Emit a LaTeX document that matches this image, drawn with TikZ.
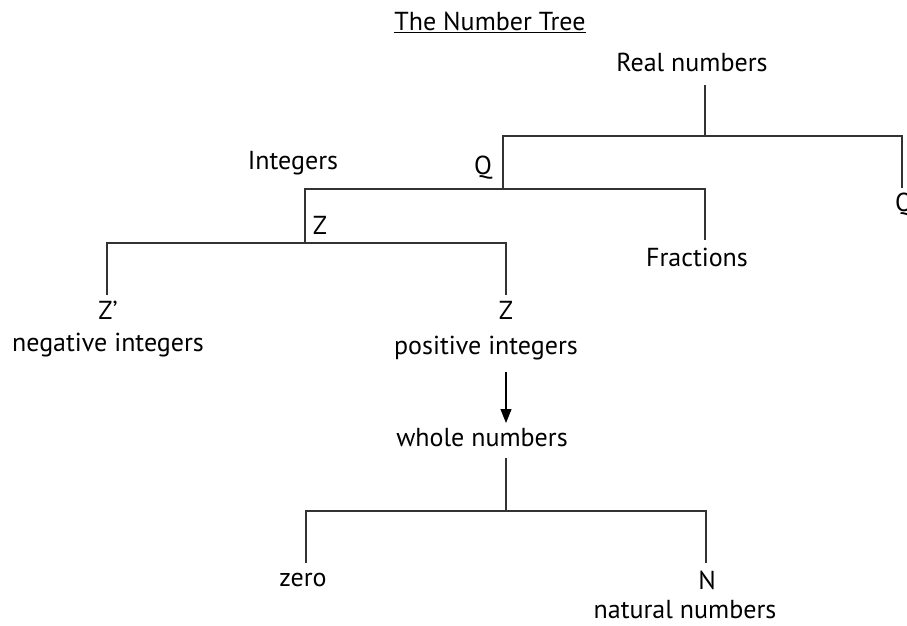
\documentclass[tikz,border=0pt]{standalone}
\usepackage{fontspec}
\setmainfont{PT Sans}
\usetikzlibrary{arrows.meta}
\begin{document}
\begin{tikzpicture}[x=1pt,y=-1pt,
  lbl/.style={inner sep=0pt,anchor=center,font=\fontsize{26}{29}\selectfont},
  conn/.style={draw=black!80,line width=1.1pt},
  arr/.style={draw=black,line width=1.1pt,-{Triangle[length=14pt,width=11pt]}}]
\useasboundingbox (0,0) rectangle (907,625);
% labels
\node[lbl] (title) at (490,22) {\underline{The Number Tree}};
\node[lbl] (real) at (692,62) {Real numbers};
\node[lbl] (qright) at (904,205) {Q};
\node[lbl] (integers) at (293,163) {Integers};
\node[lbl] (qleft) at (483,168) {Q};
\node[lbl] (fractions) at (697,257) {Fractions};
\node[lbl] (zsplit) at (320,225) {Z};
\node[lbl] (zneg) at (108,310) {Z’};
\node[lbl] (negint) at (108,345) {negative integers};
\node[lbl] (zpos) at (506,310) {Z};
\node[lbl] (posint) at (486,348) {positive integers};
\node[lbl] (whole) at (482,438) {whole numbers};
\node[lbl] (zero) at (303,580) {zero};
\node[lbl] (nat) at (707,580) {N};
\node[lbl] (natnum) at (685,610) {natural numbers};
% junction coordinates
\coordinate (r0) at (705,85);
\coordinate (r1) at (705,136);
\coordinate (q0) at (503,136);
\coordinate (q1) at (503,189);
\coordinate (qr) at (902,136);
\coordinate (qr1) at (902,188);
\coordinate (f0) at (705,189);
\coordinate (f1) at (705,240);
\coordinate (z0) at (305,189);
\coordinate (z1) at (305,243);
\coordinate (n0) at (107,243);
\coordinate (n1) at (107,295);
\coordinate (p0) at (506,243);
\coordinate (p1) at (506,295);
\coordinate (a0) at (506,372);
\coordinate (a1) at (506,423);
\coordinate (w0) at (506,458);
\coordinate (w1) at (506,511);
\coordinate (e0) at (306,511);
\coordinate (e1) at (306,563);
\coordinate (m0) at (706,511);
\coordinate (m1) at (706,563);
% connectors
\draw[conn] (r0) -- (r1);
\draw[conn] (q1) -- (q0) -- (qr) -- (qr1);
\draw[conn] (z1) -- (z0) -- (f0) -- (f1);
\draw[conn] (n1) -- (n0) -- (p0) -- (p1);
\draw[arr] (a0) -- (a1);
\draw[conn] (w0) -- (w1);
\draw[conn] (e1) -- (e0) -- (m0) -- (m1);
\end{tikzpicture}
\end{document}
